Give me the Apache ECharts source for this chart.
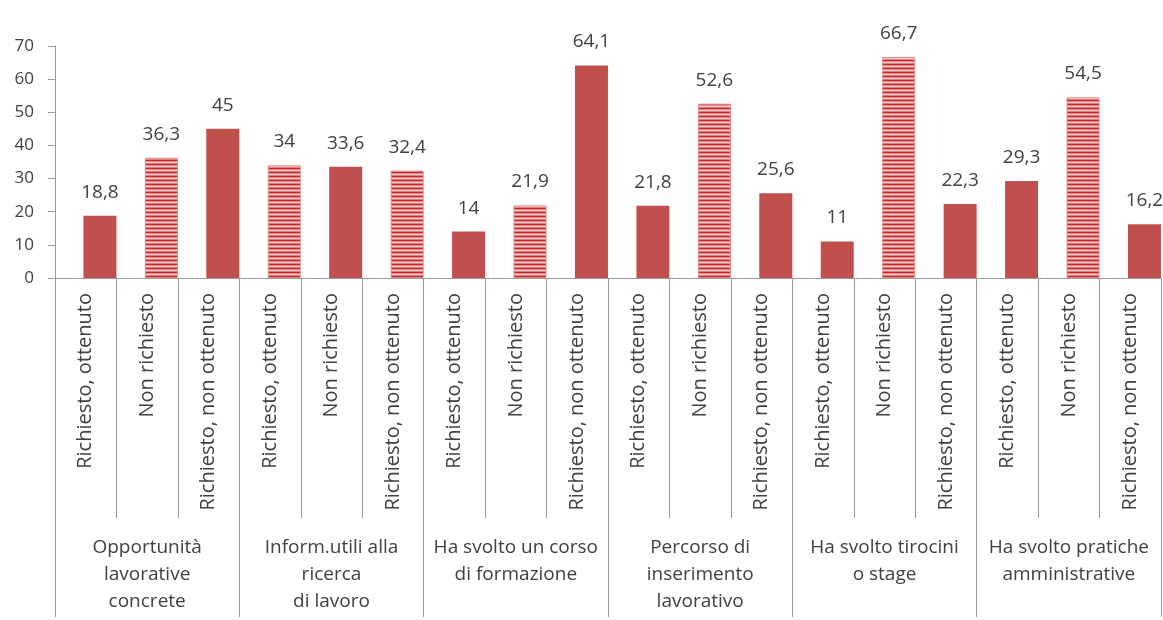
<!DOCTYPE html>
<html>
<head>
<meta charset="utf-8">
<script src="https://cdn.jsdelivr.net/npm/echarts@6/dist/echarts.min.js"></script>
<style>
html,body{margin:0;padding:0;background:#fff;}
#c{width:1163px;height:620px;}
</style>
</head>
<body>
<div id="c"></div>
<script>
const categories = [
  'Richiesto, ottenuto','Non richiesto','Richiesto, non ottenuto',
  'Richiesto, ottenuto','Non richiesto','Richiesto, non ottenuto',
  'Richiesto, ottenuto','Non richiesto','Richiesto, non ottenuto',
  'Richiesto, ottenuto','Non richiesto','Richiesto, non ottenuto',
  'Richiesto, ottenuto','Non richiesto','Richiesto, non ottenuto',
  'Richiesto, ottenuto','Non richiesto','Richiesto, non ottenuto'
];
const groups = [
  'Opportunità\nlavorative\nconcrete',
  'Inform.utili alla\nricerca\ndi lavoro',
  'Ha svolto un corso\ndi formazione',
  'Percorso di\ninserimento\nlavorativo',
  'Ha svolto tirocini\no stage',
  'Ha svolto pratiche\namministrative'
];
const values = [18.8, 36.3, 45, 34, 33.6, 32.4, 14, 21.9, 64.1, 21.8, 52.6, 25.6, 11, 66.7, 22.3, 29.3, 54.5, 16.2];
const stripedIdx = [1, 3, 5, 7, 10, 13, 16];
const yTicks = [0, 10, 20, 30, 40, 50, 60, 70];

// stripe pattern
const pc = document.createElement('canvas');
pc.width = 4; pc.height = 4;
const px = pc.getContext('2d');
const rows = ['#cc2228', '#e58a8a', '#f6cccc', '#df7f7f'];
rows.forEach((col, i) => { px.fillStyle = col; px.fillRect(0, i, 4, 1); });

const FONT = "'Open Sans', 'DejaVu Sans', sans-serif";
const TXT = '#404040';
const AX = '#9a9a9a';
const RED = '#C0504D';

const barData = values.map((v, i) => stripedIdx.includes(i)
  ? { value: v, itemStyle: { color: { image: pc, repeat: 'repeat' }, borderColor: '#e08a8a', borderWidth: 1 } }
  : { value: v });
const spacer = values.map(() => '-');

const chart = echarts.init(document.getElementById('c'), null, { renderer: 'canvas' });
chart.setOption({
  animation: false,
  backgroundColor: '#fff',
  grid: { left: 55, right: 2, top: 46, bottom: 342, containLabel: false },
  xAxis: [
    {
      type: 'category', data: categories, position: 'bottom',
      axisLine: { show: true, lineStyle: { color: AX, width: 1 } },
      axisTick: { show: true, interval: 0, length: 240, lineStyle: { color: AX } },
      axisLabel: { interval: 0, rotate: 90, margin: 15, fontFamily: FONT, fontSize: 20, color: TXT }
    },
    {
      type: 'category', data: groups, position: 'bottom',
      axisLine: { show: false },
      axisTick: { show: true, interval: 0, length: 339, lineStyle: { color: AX } },
      axisLabel: { interval: 0, margin: 256, lineHeight: 27, fontFamily: FONT, fontSize: 19, color: TXT, align: 'center' }
    }
  ],
  yAxis: {
    type: 'value', min: yTicks[0], max: yTicks[yTicks.length - 1], interval: 10,
    axisLine: { show: true, lineStyle: { color: AX } },
    axisTick: { show: true, length: 7, lineStyle: { color: AX } },
    splitLine: { show: false },
    axisLabel: { margin: 21, fontFamily: FONT, fontSize: 17, color: TXT }
  },
  series: [
    { type: 'bar', xAxisIndex: 0, data: spacer, barWidth: 33, barGap: '-14%', itemStyle: { color: 'transparent' }, silent: true },
    {
      type: 'bar', xAxisIndex: 0, data: barData, barWidth: 33, barGap: '-14%',
      itemStyle: { color: RED },
      label: {
        show: true, position: 'top', distance: 14,
        fontFamily: FONT, fontSize: 19, color: TXT,
        formatter: p => String(p.value).replace('.', ',')
      }
    }
  ]
});
</script>
</body>
</html>
